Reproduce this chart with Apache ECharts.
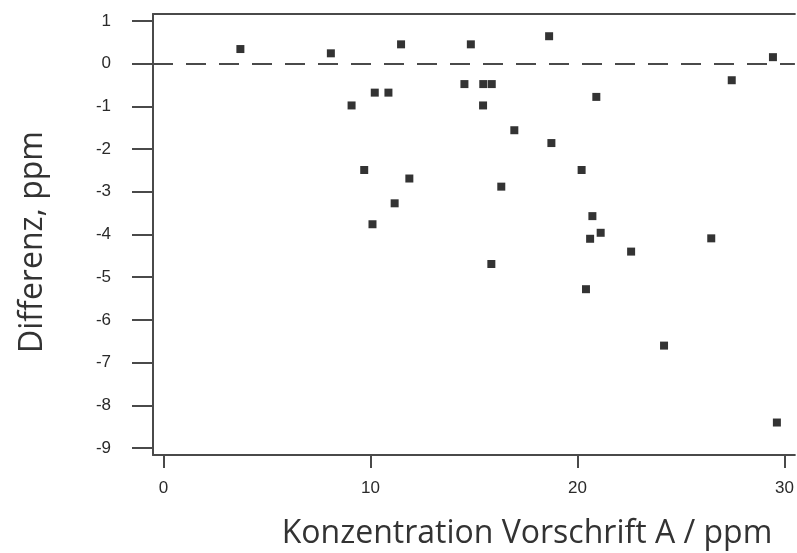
<!DOCTYPE html>
<html>
<head>
<meta charset="utf-8">
<script src="https://cdn.jsdelivr.net/npm/echarts@6/dist/echarts.min.js"></script>
<style>
  html, body { margin: 0; padding: 0; background: #fff; }
  #chart { width: 797px; height: 553px; }
</style>
</head>
<body>
<div id="chart"></div>
<script>
// Konzentration Vorschrift A (ppm) und Differenz (ppm)
var konzentration = [3.72, 8.09, 11.48, 14.85, 18.63, 14.54, 15.45, 15.86, 15.44, 9.09,
    10.21, 10.87, 20.91, 16.95, 18.74, 9.70, 11.88, 11.17, 10.10, 16.32,
    20.20, 20.72, 21.12, 20.61, 22.59, 15.84, 20.41, 24.18, 26.46, 27.45,
    29.44, 29.63];
var differenz = [0.34, 0.24, 0.45, 0.45, 0.64, -0.48, -0.48, -0.48, -0.98, -0.98,
    -0.68, -0.68, -0.78, -1.56, -1.86, -2.49, -2.69, -3.27, -3.76, -2.88,
    -2.49, -3.57, -3.96, -4.10, -4.40, -4.69, -5.28, -6.60, -4.09, -0.39,
    0.15, -8.40];
var xTicks = [0, 10, 20, 30];
var yTicks = [-9, -8, -7, -6, -5, -4, -3, -2, -1, 0, 1];

var punkte = [];
for (var i = 0; i < konzentration.length; i++) {
    punkte.push([konzentration[i], differenz[i]]);
}

var lineColor = '#4a4a4a';
var labelFont = { color: '#2a2a2a', fontSize: 17, fontFamily: 'Liberation Sans Narrow, Arial Narrow, sans-serif' };

var myChart = echarts.init(document.getElementById('chart'));

var option = {
    animation: false,
    grid: { left: 153, top: 14, right: 0, bottom: 98 },
    xAxis: [
        {
            type: 'value',
            min: -0.5,
            max: 30.5,
            axisLine: { show: true, onZero: false, lineStyle: { color: lineColor, width: 2 } },
            axisTick: { show: true, length: 13, customValues: xTicks, lineStyle: { color: lineColor, width: 2 } },
            axisLabel: Object.assign({ customValues: xTicks, margin: 25 }, labelFont),
            splitLine: { show: false }
        },
        {
            type: 'value',
            position: 'top',
            min: -0.5,
            max: 30.5,
            axisLine: { show: true, onZero: false, lineStyle: { color: lineColor, width: 2 } },
            axisTick: { show: false },
            axisLabel: { show: false },
            splitLine: { show: false }
        }
    ],
    yAxis: {
        type: 'value',
        min: -9.16,
        max: 1.16,
        axisLine: { show: true, onZero: false, lineStyle: { color: lineColor, width: 2 } },
        axisTick: { show: true, length: 21, customValues: yTicks, lineStyle: { color: lineColor, width: 2 } },
        axisLabel: Object.assign({ customValues: yTicks, margin: 42 }, labelFont),
        splitLine: { show: false }
    },
    graphic: [
        {
            type: 'text',
            x: 527,
            y: 534,
            style: {
                text: 'Konzentration Vorschrift A / ppm',
                fontSize: 32,
                fontFamily: 'Open Sans, sans-serif',
                fill: '#333',
                align: 'center',
                verticalAlign: 'middle'
            }
        },
        {
            type: 'text',
            x: 33,
            y: 242,
            rotation: Math.PI / 2,
            style: {
                text: 'Differenz, ppm',
                fontSize: 32,
                fontFamily: 'Open Sans, sans-serif',
                fill: '#333',
                align: 'center',
                verticalAlign: 'middle'
            }
        }
    ],
    series: [
        {
            type: 'scatter',
            data: punkte,
            symbol: 'rect',
            symbolSize: 8,
            itemStyle: { color: '#000' },
            markLine: {
                silent: true,
                symbol: 'none',
                label: { show: false },
                lineStyle: { color: lineColor, width: 2, type: [20, 13] },
                data: [{ yAxis: 0 }]
            }
        }
    ]
};

myChart.setOption(option);
</script>
</body>
</html>
